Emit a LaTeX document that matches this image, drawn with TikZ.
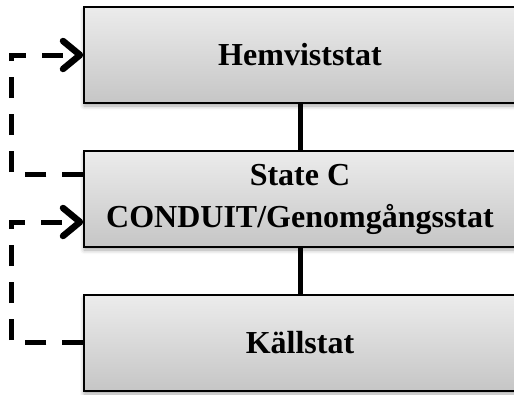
\documentclass[tikz,border=0pt]{standalone}
\usepackage{fontspec}
\setmainfont{Liberation Serif}
\usetikzlibrary{arrows.meta,shadows.blur}
\begin{document}
\begin{tikzpicture}[x=1pt,y=-1pt,
  statebox/.style={draw=black,line width=1.5pt,minimum width=432pt,minimum height=96pt,
    inner sep=0pt,top color=gray!15,bottom color=gray!45,align=center,
    font=\bfseries\fontsize{32}{42}\selectfont,
    blur shadow={shadow xshift=0pt,shadow yshift=-3pt,shadow blur radius=4pt,shadow opacity=35}},
  solidlink/.style={line width=5pt,draw=black},
  loopback/.style={line width=5pt,draw=black,dash pattern=on 21pt off 16pt,
    -{Straight Barb[length=17pt,width=28pt,line width=6.5pt,round]}}]
\useasboundingbox (0,0) rectangle (514,394);
\node[statebox] (home) at (300,55) {Hemviststat};
\node[statebox] (conduit) at (300,199) {State C\\CONDUIT/Genomgångsstat};
\node[statebox] (source) at (300,343) {Källstat};
\draw[solidlink] (home) -- (conduit);
\draw[solidlink] (conduit) -- (source);
\draw[loopback] ([yshift=25pt]conduit.west) -- ++(-72,0) |- (home.west);
\draw[loopback] ([yshift=1pt]source.west) -- ++(-72,0) |- ([yshift=-23pt]conduit.west);
\end{tikzpicture}
\end{document}
